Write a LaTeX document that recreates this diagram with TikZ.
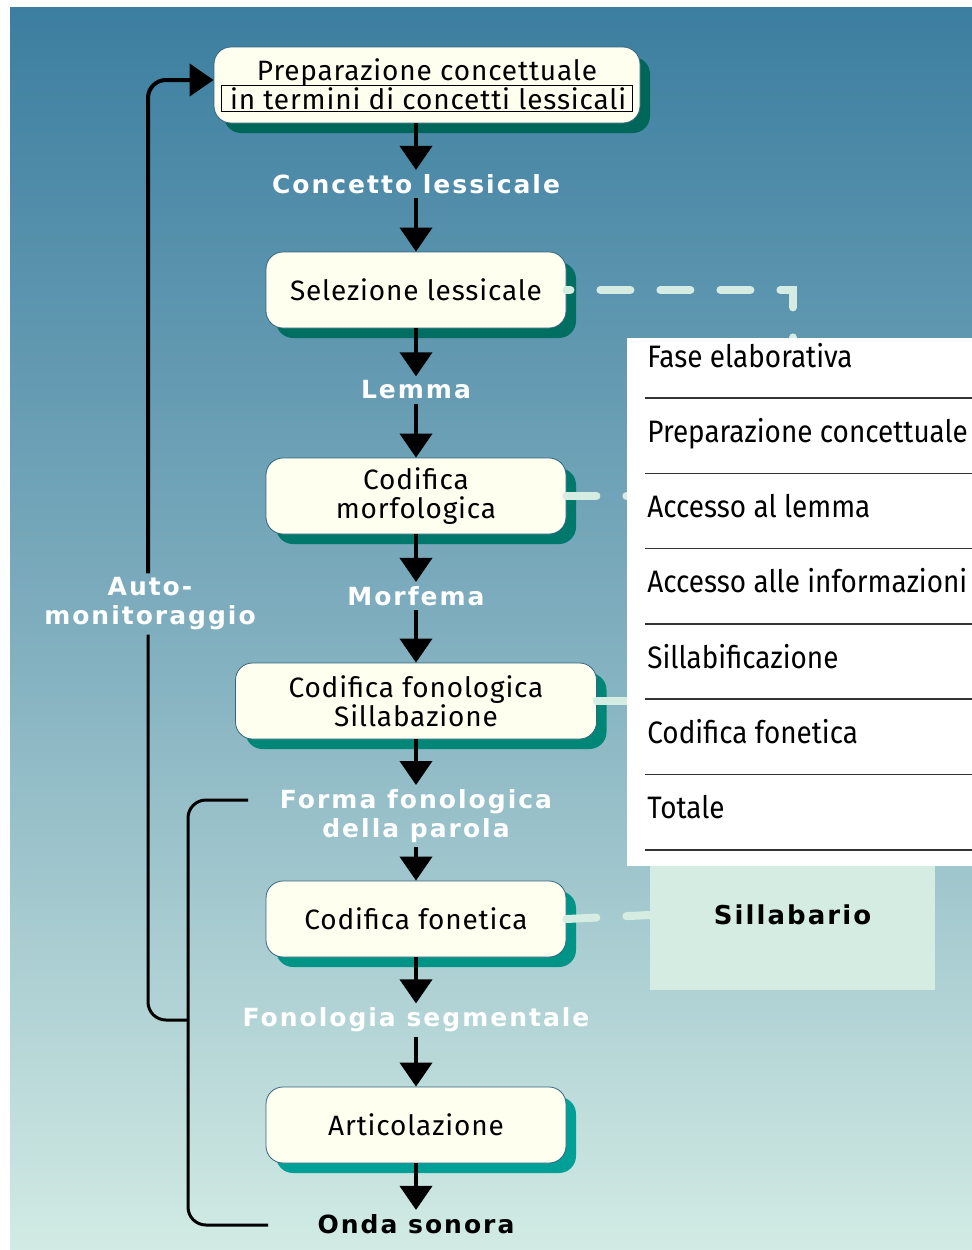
\documentclass[tikz,border=0pt]{standalone}
\usepackage{fontspec}
\setmainfont{Fira Sans}[LetterSpace=3]
\newfontfamily\labelfont{DejaVu Sans}[LetterSpace=8]
\newfontfamily\tabfont[FakeStretch=0.9]{Fira Sans}
\usepackage{tikz}
\usetikzlibrary{arrows.meta,positioning,shadows,backgrounds}

\definecolor{bgtop}{HTML}{3C7EA0}
\definecolor{bgmid}{HTML}{7FAEBE}
\definecolor{bgbot}{HTML}{D2EBE4}
\definecolor{cream}{HTML}{FFFFF0}
\definecolor{mint}{HTML}{D4ECE2}
\definecolor{boxline}{HTML}{33657F}
\definecolor{shadeA}{HTML}{00665A}
\definecolor{shadeB}{HTML}{006F62}
\definecolor{shadeC}{HTML}{00786B}
\definecolor{shadeD}{HTML}{008676}
\definecolor{shadeE}{HTML}{009486}
\definecolor{shadeF}{HTML}{00A096}

\begin{document}
\begin{tikzpicture}[x=0.5pt,y=-0.5pt,node distance=50pt,>=Triangle,auto]
    \tikzset{box/.style={rectangle,rounded corners=8.5pt,draw=boxline,thin,fill=cream,
      minimum width=150pt,minimum height=38pt,align=center,
      font=\fontsize{14}{14.5}\selectfont,
      drop shadow={shadow xshift=5pt,shadow yshift=-5pt,fill=#1,opacity=1}},
      box/.default=shadeC}
    \tikzstyle{stage}=[text=white,align=center,inner sep=2pt,
      font=\labelfont\bfseries\fontsize{12.5}{14.5}\selectfont]
    \tikzstyle{flow}=[line width=2pt,-{Triangle[width=16pt,length=12pt]}]
    \tikzstyle{bracket}=[line width=1.5pt,rounded corners=9pt]
    \tikzstyle{link}=[line width=4pt,draw=mint,line cap=round,dash pattern=on 15pt off 15pt]
    \tikzstyle{entry}=[anchor=base west,inner sep=0pt,font=\tabfont\fontsize{15.5}{18}\selectfont]
    \tikzstyle{rule}=[line width=0.8pt,draw=black!80]

    \useasboundingbox (0,0) rectangle (972,1250);
    \fill[top color=bgtop,bottom color=bgbot,middle color=bgmid] (10,7) rectangle (972,1250);

    % main chain
    \node [box=shadeA,minimum width=213pt] (prep) at (427,85)
      {Preparazione concettuale\\[-1.5pt]\setlength\fboxsep{0.5pt}\setlength\fboxrule{0.6pt}%
       \fbox{\makebox[204pt][r]{in termini di concetti lessicali\,}}};
    \node [stage] (concetto) [below of=prep,node distance=49.5pt,xshift=-5.5pt] {Concetto lessicale};
    \node [box=shadeB] (selezione) [below of=concetto,node distance=53pt] {Selezione lessicale};
    \node [stage] (lemma) [below of=selezione] {Lemma};
    \node [box=shadeC] (morfo) [below of=lemma,node distance=53pt] {Codifica\\morfologica};
    \node [stage] (morfema) [below of=morfo] {Morfema};
    \node [box=shadeD,minimum width=180.5pt] (fonol) [below of=morfema,node distance=52.5pt] {Codifica fonologica\\Sillabazione};
    \node [stage] (forma) [below of=fonol,node distance=57.5pt] {Forma fonologica\\della parola};
    \node [box=shadeE] (fonet) [below of=forma,node distance=51.5pt] {Codifica fonetica};
    \node [stage] (segm) [below of=fonet,node distance=50.5pt] {Fonologia segmentale};
    \node [box=shadeF] (artic) [below of=segm,node distance=52.5pt] {Articolazione};
    \node [stage,text=black] (onda) [below of=artic,node distance=49.5pt] {Onda sonora};
    \node [stage] (auto) at (150,604) {Auto-\\monitoraggio};

    \path (prep.south -| concetto) edge [flow] (concetto);
    \path (concetto) edge [flow] (selezione);
    \path (selezione) edge [flow] (lemma);
    \path (lemma) edge [flow] (morfo);
    \path (morfo) edge [flow] (morfema);
    \path (morfema) edge [flow] (fonol);
    \path (fonol) edge [flow] (forma);
    \path (forma) edge [flow] (fonet);
    \path (fonet) edge [flow] (segm);
    \path (segm) edge [flow] (artic);
    \path (artic) edge [flow] (onda);

    % auto-monitoraggio
    \coordinate (brtop) at (248,800);
    \coordinate (brjoin) at (188,1020);
    \coordinate (brbot) at (268,1225);
    \draw [bracket] (brtop) -| (brjoin) |- (brbot);
    \draw [bracket] (brjoin) -| (auto.south -| 148,0);
    \draw [flow,rounded corners=9pt] (auto.north -| 148,0) |- ([yshift=2.5pt]prep.west);

    % sillabario and links
    \node [fill=mint,minimum width=142.5pt,minimum height=75pt,
      font=\labelfont\bfseries\fontsize{13}{14}\selectfont] (sillab) at (792.5,915) {Sillabario};
    \coordinate (lexicon) at (793,350);
    \draw [link,dash phase=13pt] (selezione.east) -| (lexicon);
    \draw [link] (morfo.east) -- (morfo.east -| 640,0);
    \draw [link] (fonol.east) -- (fonol.east -| 640,0);
    \draw [link] (fonet.east) -- (sillab.west);

    % table
    \fill [white] (627,338) rectangle (972,866);
    \foreach \t [count=\i from 0] in {Fase elaborativa,Preparazione concettuale,Accesso al lemma,
      Accesso alle informazioni,Sillabificazione,Codifica fonetica,Totale} {
      \node [entry] (row\i) at (647,367+75.3*\i) {\t};
      \draw [rule] (645,398+75.3*\i) -- (972,398+75.3*\i);
    }
\end{tikzpicture}
\end{document}
